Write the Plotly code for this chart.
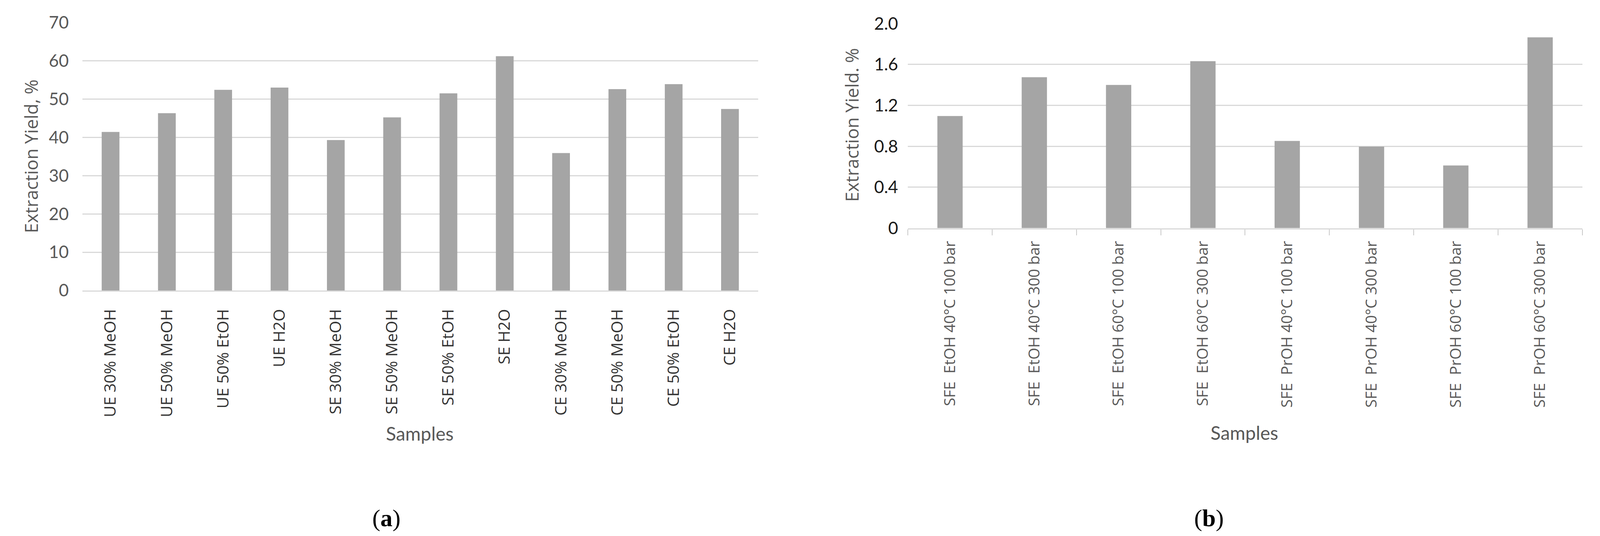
import plotly.graph_objects as go

# panel (a): conventional extractions
samples_a = [
    "UE 30% MeOH", "UE 50% MeOH", "UE 50% EtOH", "UE H2O",
    "SE 30% MeOH", "SE 50% MeOH", "SE 50% EtOH", "SE H2O",
    "CE 30% MeOH", "CE 50% MeOH", "CE 50% EtOH", "CE H2O",
]
yield_a = [41.4, 46.3, 52.4, 53.0, 39.3, 45.2, 51.5, 61.2, 35.9, 52.6, 53.9, 47.4]
ticks_a = [0, 10, 20, 30, 40, 50, 60, 70]

# panel (b): supercritical fluid extraction
samples_b = [
    "SFE\u00a0 EtOH 40°C 100 bar", "SFE\u00a0 EtOH 40°C 300 bar",
    "SFE\u00a0 EtOH 60°C 100 bar", "SFE\u00a0 EtOH 60°C 300 bar",
    "SFE\u00a0 PrOH 40°C 100 bar", "SFE\u00a0 PrOH 40°C 300 bar",
    "SFE\u00a0 PrOH 60°C 100 bar", "SFE\u00a0 PrOH 60°C 300 bar",
]
yield_b = [1.096, 1.476, 1.400, 1.632, 0.852, 0.797, 0.613, 1.865]
ticks_b = [0, 0.4, 0.8, 1.2, 1.6, 2.0]
ticktext_b = ["0", "0.4", "0.8", "1.2", "1.6", "2.0"]

# positions below are measured on the 4242 x 1371 reference and used as fractions
RW, RH = 4242, 1371
BAR = "#a5a5a5"
GRID = "#d9d9d9"
SANS = "Open Sans, DejaVu Sans, sans-serif"
NUM = "Lato, Liberation Sans, sans-serif"


def fx(px):
    return px / RW


def fy(px):
    return 1 - px / RH


fig = go.Figure()
fig.add_trace(go.Bar(x=samples_a, y=yield_a, marker=dict(color=BAR, line_width=0),
                     width=0.315, xaxis="x", yaxis="y", showlegend=False))
fig.add_trace(go.Bar(x=samples_b, y=yield_b, marker=dict(color=BAR, line_width=0),
                     width=0.30, xaxis="x2", yaxis="y2", showlegend=False))

fig.update_layout(
    width=4096, height=1371,
    autosize=False,
    margin=dict(l=0, r=0, t=0, b=0, pad=0),
    paper_bgcolor="white", plot_bgcolor="white",
    xaxis=dict(domain=[fx(218.5), fx(2010)], anchor="y", automargin=False,
               showline=True, linecolor=GRID, linewidth=3, ticks="",
               tickangle=-90, ticklabelstandoff=28,
               tickfont=dict(family=SANS, size=41, color="#333333")),
    yaxis=dict(domain=[fy(743), fy(57.5)], anchor="x", automargin=False,
               range=[0, 70], tickvals=ticks_a, showgrid=True, gridcolor=GRID,
               gridwidth=3, zeroline=False, showline=False, ticks="",
               ticklabelstandoff=34,
               tickfont=dict(family=NUM, size=44, color="#595959")),
    xaxis2=dict(domain=[fx(2407), fx(4195)], anchor="y2", automargin=False,
                showline=True, linecolor=GRID, linewidth=3,
                ticks="outside", tickson="boundaries", ticklen=15, tickwidth=2,
                tickcolor="#c8c8c8", tickangle=-90, ticklabelstandoff=14,
                tickfont=dict(family=SANS, size=39, color="#595959")),
    yaxis2=dict(domain=[fy(583.5), fy(60.3)], anchor="x2", automargin=False,
                range=[0, 2.0], tickvals=ticks_b, ticktext=ticktext_b,
                showgrid=True, gridcolor=GRID, gridwidth=3, zeroline=False,
                showline=False, ticks="", ticklabelstandoff=24,
                tickfont=dict(family=NUM, size=44, color="#1a1a1a")),
)

notes = [
    # y-axis titles
    dict(x=fx(82), y=fy(400), text="Extraction Yield, %", textangle=-90,
         font=dict(family=SANS, size=46, color="#595959")),
    dict(x=fx(2258), y=fy(320), text="Extraction Yield. %", textangle=-90,
         font=dict(family=SANS, size=46, color="#595959")),
    # x-axis titles
    dict(x=fx(1113), y=fy(1108), text="Samples",
         font=dict(family=NUM, size=48, color="#595959")),
    dict(x=fx(3299), y=fy(1106), text="Samples",
         font=dict(family=NUM, size=48, color="#595959")),
    # panel captions
    dict(x=fx(1024), y=fy(1325), text="(<b>a</b>)",
         font=dict(family="Liberation Serif, DejaVu Serif, serif", size=62, color="black")),
    dict(x=fx(3205), y=fy(1325), text="(<b>b</b>)",
         font=dict(family="Liberation Serif, DejaVu Serif, serif", size=62, color="black")),
]
for n in notes:
    fig.add_annotation(xref="paper", yref="paper", showarrow=False,
                       xanchor="center", yanchor="middle", **n)

# fit the figure to the browser window (the window is narrower than 4242)
fit = (
    "document.body.style.margin='0';document.body.style.overflow='hidden';"
    "var gd=document.getElementById('{plot_id}');"
    "Plotly.relayout(gd,{width:window.innerWidth,height:window.innerHeight});"
)
fig.write_html("out.html", post_script=fit, config={"displayModeBar": False})
